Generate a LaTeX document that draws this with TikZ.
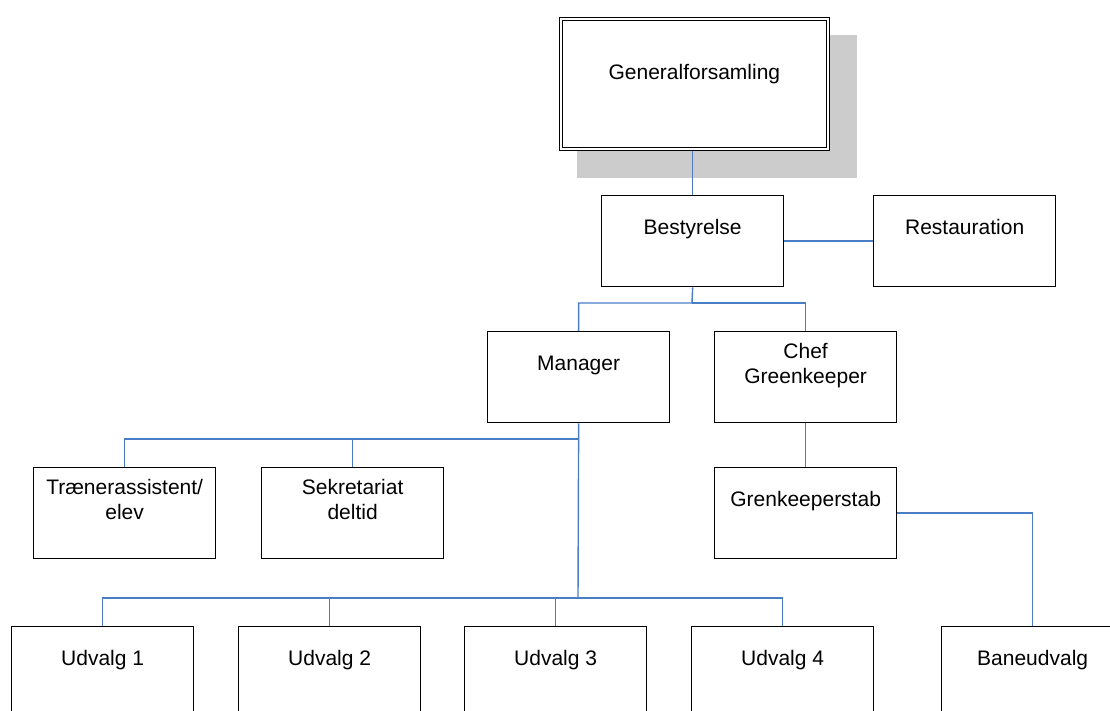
\documentclass[tikz,border=0pt]{standalone}
\usepackage{fontspec}
\setmainfont{Liberation Sans}
\usetikzlibrary{backgrounds}
\definecolor{linkblue}{RGB}{74,126,196}
\definecolor{shadegray}{RGB}{204,204,204}
\newcommand{\boxtxt}[4]{\vbox to #2{\hsize=#1\parindent=0pt\vbox to #3{\vss\centering\strut#4\strut\par\vss}\vss}}
\newcommand{\bx}[1]{\boxtxt{182pt}{91pt}{68pt}{#1}}
\begin{document}
\begin{tikzpicture}[x=1pt,y=-1pt,
  orgbox/.style={draw=black, line width=1.3pt, fill=white, inner sep=0pt, outer sep=0.65pt, anchor=north west, font=\fontsize{21}{25}\selectfont},
  topbox/.style={draw=black, line width=1.2pt, double=white, double distance=2.4pt, fill=white, inner sep=0pt, outer sep=2.4pt, anchor=north west, font=\fontsize{21}{25}\selectfont},
  link/.style={draw=linkblue, line width=1.4pt}]
\useasboundingbox (0,0) rectangle (1110,710);

\node[topbox] (gen) at (558.5,16.5) {\boxtxt{267pt}{130pt}{111pt}{Generalforsamling}};
\begin{scope}[on background layer]
  \fill[shadegray] ([shift={(18.5pt,-18.5pt)}]gen.north west) rectangle ([shift={(26.5pt,-26.5pt)}]gen.south east);
\end{scope}

\node[orgbox] (bes) at (601,195) {\bx{Bestyrelse}};
\node[orgbox] (res) at (873,195) {\bx{Restauration}};
\node[orgbox] (man) at (487,331) {\bx{Manager}};
\node[orgbox] (chef) at (714,331) {\bx{Chef\\Greenkeeper}};
\node[orgbox] (tra) at (33,467) {\bx{Trænerassistent/\\elev}};
\node[orgbox] (sek) at (261,467) {\bx{Sekretariat\\deltid}};
\node[orgbox] (gst) at (714,467) {\bx{Grenkeeperstab}};
\node[orgbox] (u1) at (11,626) {\bx{Udvalg 1}};
\node[orgbox] (u2) at (238,626) {\bx{Udvalg 2}};
\node[orgbox] (u3) at (464,626) {\bx{Udvalg 3}};
\node[orgbox] (u4) at (691,626) {\bx{Udvalg 4}};
\node[orgbox] (bane) at (941,626) {\bx{Baneudvalg}};

\coordinate (jb) at (692,303);
\coordinate (jt) at (578,439);
\coordinate (ju) at (578,598);

\draw[link] (bes.north |- gen.south) -- (bes.north);
\draw[link] (bes.east) -- (res.west);
\draw[link] (bes.south) -- (jb) -| (man.north);
\draw[link] (jb) -| (chef.north);
\draw[link] (man.south) -- (ju);
\draw[link] (jt) -| (tra.north);
\draw[link] (jt) -| (sek.north);
\draw[link] (ju) -| (u1.north);
\draw[link] (ju) -| (u2.north);
\draw[link] (ju) -| (u3.north);
\draw[link] (ju) -| (u4.north);
\draw[link] (chef.south) -- (gst.north);
\draw[link] (gst.east) -| (bane.north);
\end{tikzpicture}
\end{document}
